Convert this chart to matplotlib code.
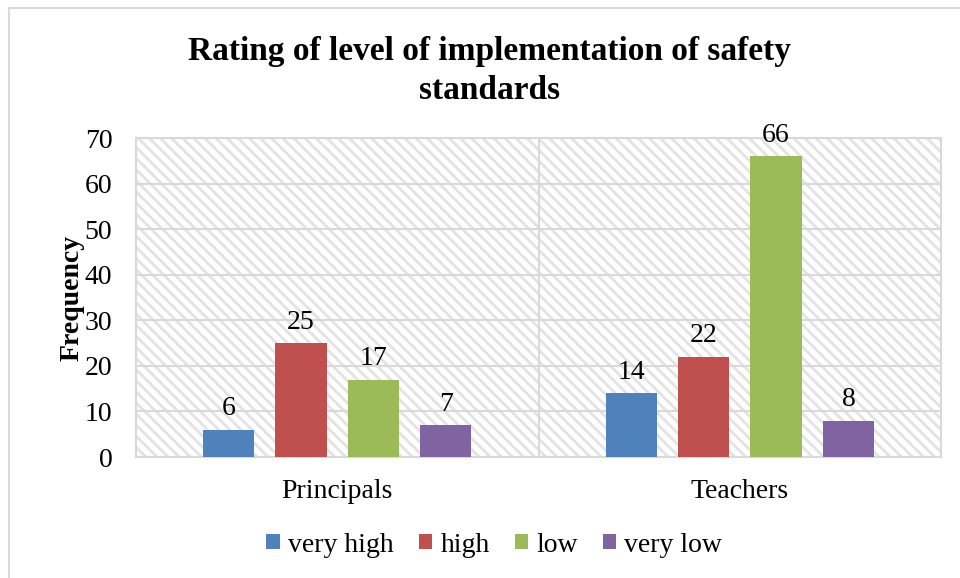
import matplotlib.pyplot as plt
from matplotlib.patches import Rectangle

groups = ["Principals", "Teachers"]
levels = ["very high", "high", "low", "very low"]
very_high = [6, 14]
high = [25, 22]
low = [17, 66]
very_low = [7, 8]
colors = ["#4F81BD", "#C0504D", "#9BBB59", "#8064A2"]

plt.rcParams['font.family'] = ['Liberation Serif', 'DejaVu Serif']
plt.rcParams['hatch.linewidth'] = 2.0
plt.rcParams['hatch.color'] = '#E3E3E3'

fig = plt.figure(figsize=(9.6, 5.78), dpi=100)
ax = fig.add_axes([0.1417, 0.2093, 0.8385, 0.5519])

# hatched plot area like the excel one
bg = Rectangle((0, 0), 1, 1, transform=ax.transAxes, facecolor='white',
               edgecolor='#E3E3E3', hatch='\\\\\\', lw=0, zorder=0)
ax.add_patch(bg)

series = [very_high, high, low, very_low]
x = range(len(groups))
step = 0.18
w = 0.127
for i, vals in enumerate(series):
    xs = [k + (i - 1.5) * step for k in x]
    bars = ax.bar(xs, vals, width=w, color=colors[i], label=levels[i], zorder=3)
    for b, v in zip(bars, vals):
        ax.annotate(str(v), (b.get_x() + b.get_width() / 2, v),
                    xytext=(0, 6), textcoords='offset points',
                    ha='center', va='bottom', fontsize=20)

ax.set_xlim(-0.5, 1.5)
ax.set_ylim(0, 70)
ax.set_yticks(range(0, 71, 10))
ax.set_xticks(list(x))
ax.set_xticklabels(groups)
ax.tick_params(axis='both', length=0, labelsize=20)
ax.tick_params(axis='y', pad=17)
ax.tick_params(axis='x', pad=16)
ax.grid(axis='y', color='#D9D9D9', lw=1.5, zorder=1)
ax.axvline(0.5, color='#D9D9D9', lw=1.5, zorder=1)
for s in ax.spines.values():
    s.set_color('#D9D9D9')
    s.set_linewidth(1.5)
ax.set_ylabel("Frequency", fontsize=20, fontweight='bold', labelpad=0)

fig.text(0.51, 0.877, "Rating of level of implementation of safety\nstandards",
         ha='center', va='center', fontsize=24, fontweight='bold', linespacing=1.3)

ax.legend(loc='center', bbox_to_anchor=(0.515, 0.057), bbox_transform=fig.transFigure,
          ncol=4, frameon=False, fontsize=20, handlelength=0.48, handleheight=0.48,
          handletextpad=0.3, columnspacing=0.9)

# outer chart border
fig.patches.append(Rectangle((9 / 960, -0.1), 1.2, 1 - 8 / 578 + 0.1,
                             transform=fig.transFigure, fill=False,
                             edgecolor='#D9D9D9', lw=1.5))

fig.savefig("out.png", dpi=100)
